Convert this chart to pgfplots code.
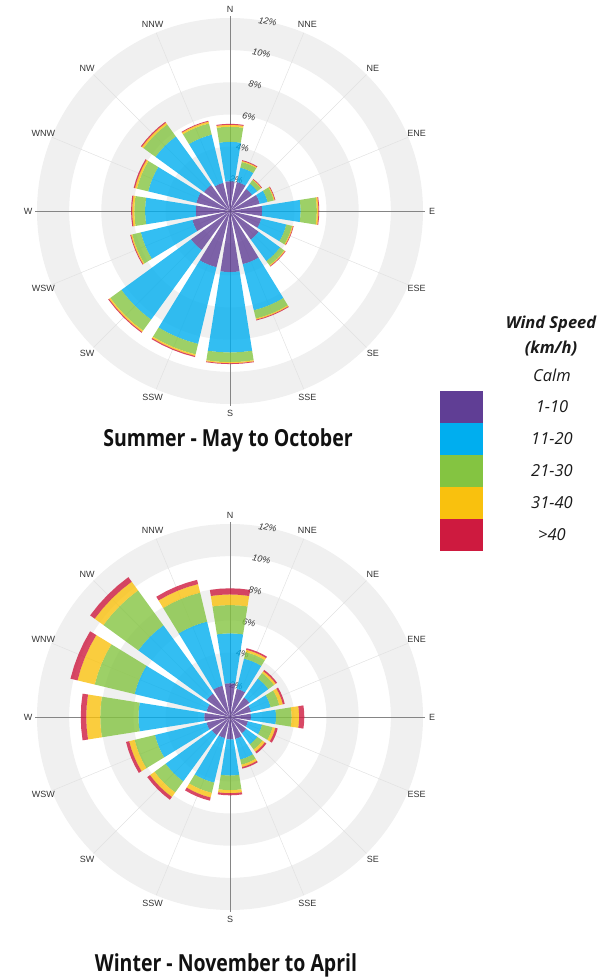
\documentclass[border=0pt]{standalone}
\usepackage{fontspec}
\setmainfont{Open Sans}
\newfontfamily\dirfont{Liberation Sans}
\newfontfamily\titlefont[FakeStretch=0.83]{Open Sans}
\usepackage{pgfplots}
\usepackage{pgfplotstable}
\pgfplotsset{compat=1.18}

\definecolor{cPurple}{HTML}{603E95}
\definecolor{cBlue}{HTML}{00AEEF}
\definecolor{cGreen}{HTML}{84C441}
\definecolor{cYellow}{HTML}{F9C10E}
\definecolor{cRed}{HTML}{CE1A3F}
\definecolor{ringgray}{HTML}{F0F0F0}
\definecolor{spokegray}{HTML}{E2E2E2}
\definecolor{axisgray}{HTML}{858585}
\definecolor{labgray}{HTML}{333333}

% band values (percent) per direction, clockwise from N
\pgfplotstableread{
dir p b g y r
N   1.85 2.45 0.94 0.12 0.06
NNE 1.85 0.92 0.36 0.07 0.05
NE  1.70 0.40 0.27 0.05 0.04
ENE 1.90 0.50 0.40 0.06 0.04
E   2.00 2.39 1.01 0.10 0.05
ESE 2.00 1.60 0.37 0.06 0.04
SE  2.20 1.65 0.32 0.06 0.04
SSE 3.40 2.95 0.53 0.07 0.05
S   3.80 5.00 0.60 0.07 0.05
SSW 3.60 4.90 0.67 0.10 0.07
SW  3.00 5.35 0.85 0.10 0.06
WSW 2.40 3.30 0.55 0.08 0.05
W   2.13 3.15 0.67 0.13 0.07
WNW 2.15 3.08 0.72 0.13 0.08
NW  2.00 3.73 0.92 0.13 0.07
NNW 1.80 3.08 0.72 0.12 0.05
}\summer

\pgfplotstableread{
dir p b g y r
N   2.10 3.10 1.76 0.66 0.38
NNE 1.80 1.93 0.42 0.15 0.10
NE  1.50 1.45 0.43 0.14 0.10
ENE 1.35 1.25 0.55 0.23 0.12
E   1.30 1.56 0.97 0.47 0.32
ESE 1.15 0.90 0.67 0.18 0.15
SE  1.25 0.85 0.40 0.18 0.12
SSE 1.40 1.32 0.33 0.15 0.10
S   1.40 2.24 0.91 0.19 0.13
SSW 1.35 2.85 0.65 0.30 0.20
SW  1.40 3.55 0.85 0.35 0.21
WSW 1.50 3.30 1.30 0.35 0.20
W   1.60 4.09 2.38 0.87 0.34
WNW 1.50 4.60 2.55 1.10 0.45
NW  1.80 5.25 2.68 0.67 0.35
NNW 2.00 4.10 1.85 0.55 0.27
}\winter

\newcommand\sector[4]{%
  \pgfmathsetmacro\aA{#2-9}\pgfmathsetmacro\aB{#2-4.5}%
  \pgfmathsetmacro\aC{#2+4.5}\pgfmathsetmacro\aD{#2+9}%
  \edef\temp{\noexpand\addplot[data cs=polar, draw=none, fill=#1, fill opacity=0.8]
    coordinates {(\aA,#3) (\aA,#4) (\aB,#4) (#2,#4) (\aC,#4) (\aD,#4)
                 (\aD,#3) (\aC,#3) (#2,#3) (\aB,#3)} -- cycle;}%
  \temp}

\newcommand\rose[1]{%
  \pgfplotsforeachungrouped \i in {0,...,15}{%
    \pgfmathsetmacro\ang{90-22.5*\i}%
    \pgfplotstablegetelem{\i}{p}\of#1\pgfmathsetmacro\rA{\pgfplotsretval}%
    \pgfplotstablegetelem{\i}{b}\of#1\pgfmathsetmacro\rB{\rA+\pgfplotsretval}%
    \pgfplotstablegetelem{\i}{g}\of#1\pgfmathsetmacro\rC{\rB+\pgfplotsretval}%
    \pgfplotstablegetelem{\i}{y}\of#1\pgfmathsetmacro\rD{\rC+\pgfplotsretval}%
    \pgfplotstablegetelem{\i}{r}\of#1\pgfmathsetmacro\rE{\rD+\pgfplotsretval}%
    \sector{cPurple}{\ang}{0}{\rA}%
    \sector{cBlue}{\ang}{\rA}{\rB}%
    \sector{cGreen}{\ang}{\rB}{\rC}%
    \sector{cYellow}{\ang}{\rC}{\rD}%
    \sector{cRed}{\ang}{\rD}{\rE}%
  }}

\newcommand\roseback[2]{%
  \begin{scope}[shift={(#1,#2)}]
    \fill[ringgray, even odd rule] (0,0) circle (193pt) circle (160.83pt)
      (0,0) circle (128.67pt) circle (96.5pt) (0,0) circle (64.33pt) circle (32.17pt);
    \foreach \k in {0,...,15} \draw[spokegray, line width=0.5pt] (0,0) -- ({90-22.5*\k}:193pt);
    \draw[axisgray, line width=0.8pt] (0,-195pt) -- (0,195pt);
    \draw[axisgray, line width=0.8pt] (-195pt,0) -- (195pt,0);
    \foreach \k/\lab in {0/N,1/NNE,2/NE,3/ENE,4/E,5/ESE,6/SE,7/SSE,8/S,9/SSW,10/SW,11/WSW,12/W,13/WNW,14/NW,15/NNW}
      \node[font=\dirfont\fontsize{9}{10}\selectfont, text=labgray, inner sep=0pt] at ({90-22.5*\k}:202pt) {\lab};
    \foreach \v in {2,4,...,12}
      \node[font=\dirfont\itshape\fontsize{9}{10}\selectfont, text=labgray, rotate=-11.25, inner sep=0pt]
        at (78.75:{\v*16.083pt}) {\v\%};
  \end{scope}}

\begin{document}
\begin{tikzpicture}
\path[use as bounding box] (0,0) rectangle (613pt,978pt);
\roseback{230pt}{767pt}
\roseback{230pt}{261pt}

\begin{axis}[at={(230pt,767pt)}, anchor=center, scale only axis, width=386pt, height=386pt,
  xmin=-12, xmax=12, ymin=-12, ymax=12, hide axis, clip=false]
\rose{\summer}
\end{axis}

\begin{axis}[at={(230pt,261pt)}, anchor=center, scale only axis, width=386pt, height=386pt,
  xmin=-12, xmax=12, ymin=-12, ymax=12, hide axis, clip=false]
\rose{\winter}
\end{axis}

% titles
\node[font=\titlefont\bfseries\fontsize{23.5}{26}\selectfont, text={rgb,255:red,17;green,17;blue,17}] at (228pt,538pt) {Summer - May to October};
\node[font=\titlefont\bfseries\fontsize{23.5}{26}\selectfont, text={rgb,255:red,17;green,17;blue,17}] at (226pt,13pt) {Winter - November to April};

% legend
\fill[cPurple] (440pt,555pt) rectangle (483pt,587pt);
\fill[cBlue]   (440pt,523pt) rectangle (483pt,555pt);
\fill[cGreen]  (440pt,491pt) rectangle (483pt,523pt);
\fill[cYellow] (440pt,459pt) rectangle (483pt,491pt);
\fill[cRed]    (440pt,427pt) rectangle (483pt,459pt);
\begin{scope}[every node/.style={font=\itshape\fontsize{16.5}{18}\selectfont, text={rgb,255:red,26;green,26;blue,26}}]
\node[font=\bfseries\itshape\fontsize{16.5}{18}\selectfont] at (551pt,654pt) {Wind Speed};
\node[font=\bfseries\itshape\fontsize{16.5}{18}\selectfont] at (551pt,629pt) {(km/h)};
\node at (552pt,603pt) {Calm};
\node at (552pt,571pt) {1-10};
\node at (552pt,539pt) {11-20};
\node at (552pt,507pt) {21-30};
\node at (552pt,475pt) {31-40};
\node at (552pt,443pt) {>40};
\end{scope}
\end{tikzpicture}
\end{document}
